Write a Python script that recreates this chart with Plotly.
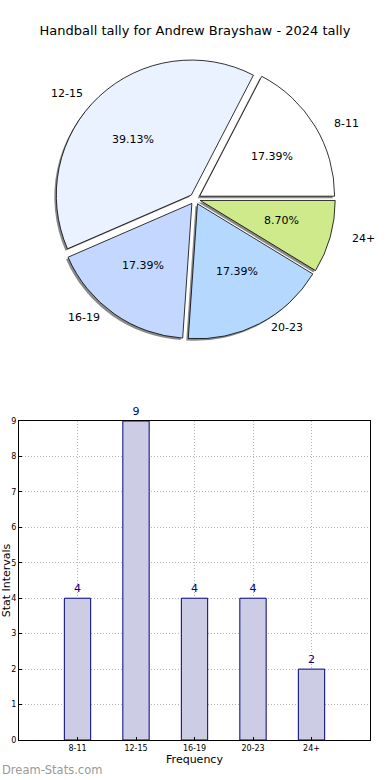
import math
import plotly.graph_objects as go

# ---- data ----
title = "Handball tally for Andrew Brayshaw - 2024 tally"
categories = ["8-11", "12-15", "16-19", "20-23", "24+"]
counts = [4, 9, 4, 4, 2]
pie_colors = ["#ffffff", "#eaf2ff", "#c4d8ff", "#b5d8ff", "#cfea8b"]
bar_fill = "#ccccE4"
bar_edge = "#000080"
y_ticks = list(range(0, 10))

W, H = 390, 780
FONT = "DejaVu Sans"

# ---- pie geometry (pixels) ----
CX, CY = 195, 199
R = 135
PULL = 0.04
RX_LBL, RY_LBL = 141, 127  # radii used for placing text like the original
half = R * (1 + PULL)

def px_to_paper(x, y):
    return x / W, 1 - y / H

dom_x = [(CX - half) / W, (CX + half) / W]
dom_y = [1 - (CY + half) / H, 1 - (CY - half) / H]

total = sum(counts)
# first wedge starts at 3 o'clock and runs counterclockwise
rot = 90 - 360 * counts[0] / total

fig = go.Figure()

# shadow pie
sx, sy = -2 / W, -2 / H
fig.add_trace(go.Pie(
    labels=categories, values=counts, sort=False, direction="counterclockwise",
    rotation=rot, pull=[PULL] * len(counts), textinfo="none", hoverinfo="skip",
    marker=dict(colors=["rgba(60,60,60,0.6)"] * len(counts), line=dict(width=0)),
    domain=dict(x=[dom_x[0] + sx, dom_x[1] + sx], y=[dom_y[0] + sy, dom_y[1] + sy]),
    showlegend=False,
))
# main pie
fig.add_trace(go.Pie(
    labels=categories, values=counts, sort=False, direction="counterclockwise",
    rotation=rot, pull=[PULL] * len(counts), textinfo="none",
    marker=dict(colors=pie_colors, line=dict(color="#000000", width=0.8)),
    domain=dict(x=dom_x, y=dom_y), showlegend=False,
))

annotations = []
start = 0.0
for cat, v in zip(categories, counts):
    frac = v / total
    mid = math.radians((start + frac / 2) * 360)
    start += frac
    ex = CX + PULL * RX_LBL * math.cos(mid)
    ey = CY - PULL * RY_LBL * math.sin(mid)
    # outer label
    lx = ex + 1.1 * RX_LBL * math.cos(mid)
    ly = ey - 1.1 * RY_LBL * math.sin(mid)
    px, py = px_to_paper(lx, ly)
    annotations.append(dict(
        x=px, y=py, xref="paper", yref="paper", text=cat, showarrow=False,
        xanchor="left" if math.cos(mid) >= 0 else "right", yanchor="middle",
        font=dict(family=FONT, size=11, color="#000000"),
    ))
    # percentage
    tx = ex + 0.6 * RX_LBL * math.cos(mid)
    ty = ey - 0.6 * RY_LBL * math.sin(mid)
    px, py = px_to_paper(tx, ty)
    annotations.append(dict(
        x=px, y=py, xref="paper", yref="paper", text=f"{frac * 100:.2f}%",
        showarrow=False, xanchor="center", yanchor="middle",
        font=dict(family=FONT, size=11, color="#000000"),
    ))

# ---- bar chart ----
fig.add_trace(go.Bar(
    x=categories, y=counts, width=0.45,
    marker=dict(color=bar_fill, line=dict(color=bar_edge, width=1)),
    text=[str(c) for c in counts], textposition="outside", cliponaxis=False,
    textfont=dict(family=FONT, size=11, color=bar_edge),
    xaxis="x", yaxis="y", showlegend=False,
))

annotations.append(dict(
    x=0, y=1 - 770 / H, xref="paper", yref="paper", text="Dream-Stats.com",
    showarrow=False, xanchor="left", yanchor="middle",
    font=dict(family=FONT, size=11.5, color="#999999"),
))

fig.update_layout(
    width=W, height=H, margin=dict(l=0, r=0, t=0, b=0, autoexpand=False),
    paper_bgcolor="white", plot_bgcolor="white",
    font=dict(family=FONT, color="#000000"),
    title=dict(text=title, x=0.5, xref="paper", xanchor="center", y=1 - 30 / H,
               yref="container", yanchor="middle",
               font=dict(family=FONT, size=13, color="#000000")),
    annotations=annotations,
    xaxis=dict(
        domain=[19 / W, 370 / W], range=[-1, 5], type="category", automargin=False,
        showline=True, mirror=True, linecolor="#000000", linewidth=1,
        showgrid=True, gridcolor="#b4b4b4", griddash="1px,2px", gridwidth=1,
        ticks="inside", ticklen=3, tickcolor="#000000",
        tickfont=dict(family=FONT, size=8, color="#000000"),
        title=dict(text="Frequency", font=dict(family=FONT, size=11), standoff=2),
        zeroline=False, fixedrange=True,
    ),
    yaxis=dict(
        domain=[1 - 740 / H, 1 - 421 / H], range=[0, 9], tickvals=y_ticks,
        automargin=False,
        showline=True, mirror=True, linecolor="#000000", linewidth=1,
        showgrid=True, gridcolor="#b4b4b4", griddash="1px,2px", gridwidth=1,
        ticks="inside", ticklen=3, tickcolor="#000000",
        tickfont=dict(family=FONT, size=8, color="#000000"),
        title=dict(text="Stat Intervals", font=dict(family=FONT, size=11), standoff=4),
        zeroline=False, fixedrange=True,
    ),
)

fig.write_html("out.html", config={"displayModeBar": False},
               post_script="document.body.style.margin='0';document.body.style.overflow='hidden';")
